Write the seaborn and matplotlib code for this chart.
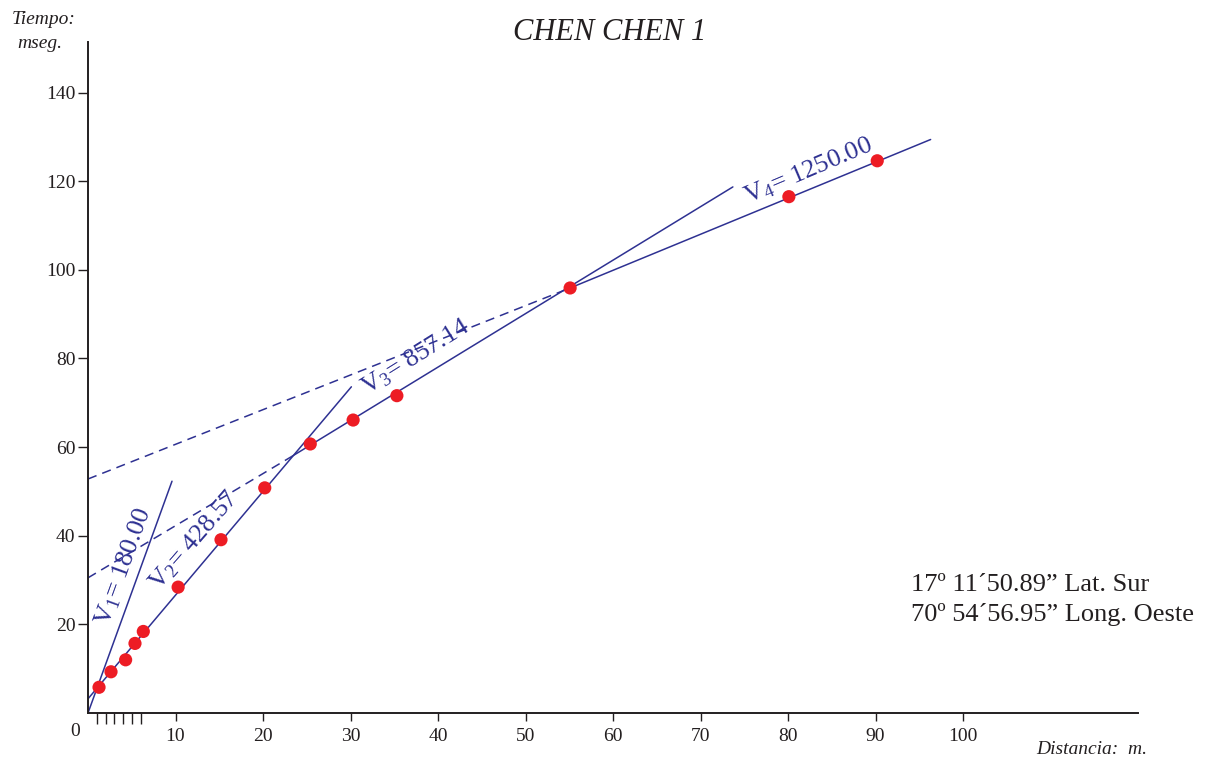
import numpy as np
import pandas as pd
import seaborn as sns
import matplotlib
matplotlib.use('Agg')
import matplotlib.pyplot as plt

# Puntos medidos (distancia en m, tiempo en ms)
distancia = [1.26, 2.63, 4.3, 5.37, 6.32, 10.3, 15.2, 20.2, 25.4, 30.3, 35.3, 55.1, 80.1, 90.2]
tiempo = [5.8, 9.3, 12.0, 15.7, 18.4, 28.4, 39.1, 50.8, 60.7, 66.1, 71.6, 95.9, 116.5, 124.6]

# Rectas de velocidad: extremos (x0, t0) -> (x1, t1)
seg_x0 = [0, 0, 0, 23.3, 0, 55.1]
seg_t0 = [0, 3.2, 30.5, 57.9, 52.8, 95.9]
seg_x1 = [9.6, 30.1, 23.3, 73.7, 55.1, 96.3]
seg_t1 = [52.3, 73.6, 57.9, 118.7, 95.9, 129.4]
seg_dashed = [False, False, True, False, True, False]

# Etiquetas de velocidad
vel_labels = [r"V$_1$= 180.00", r"V$_2$= 428.57", r"V$_3$= 857.14", r"V$_4$= 1250.00"]
vel_x = [4.1, 12.1, 37.4, 82.3]
vel_t = [33.0, 39.0, 80.3, 122.3]
vel_rot = [70, 49, 32, 23]

x_ticks = [10, 20, 30, 40, 50, 60, 70, 80, 90, 100]
x_minor = [1, 2, 3, 4, 5, 6]
y_ticks = [20, 40, 60, 80, 100, 120, 140]

sns.set_theme(style="white")
plt.rcParams['font.family'] = ['Liberation Serif', 'DejaVu Serif']
plt.rcParams['mathtext.fontset'] = 'custom'
plt.rcParams['mathtext.rm'] = 'Liberation Serif'
plt.rcParams['mathtext.it'] = 'Liberation Serif:italic'
plt.rcParams['mathtext.default'] = 'regular'

AZUL = '#2E3192'
ROJO = '#ED1C24'
NEGRO = '#231F20'
W, H = 1208, 765

fig = plt.figure(figsize=(W / 100, H / 100), dpi=100)
ax = fig.add_axes([88 / W, 1 - 713 / H, (1138 - 88) / W, (713 - 42) / H])

for i in range(len(seg_x0)):
    sns.lineplot(x=[seg_x0[i], seg_x1[i]], y=[seg_t0[i], seg_t1[i]], ax=ax,
                 color=AZUL, lw=1.1, sort=False, estimator=None,
                 linestyle=(0, (6, 4)) if seg_dashed[i] else '-', zorder=2)

df = pd.DataFrame({"distancia": distancia, "tiempo": tiempo})
sns.scatterplot(data=df, x="distancia", y="tiempo", ax=ax, color=ROJO,
                s=90, edgecolor='none', zorder=3)

for lab, x, t, r in zip(vel_labels, vel_x, vel_t, vel_rot):
    ax.text(x, t, lab, rotation=r, rotation_mode='anchor', ha='center', va='center',
            color=AZUL, fontsize=19)

ax.set_xlim(0, 120)
ax.set_ylim(0, 151.4)
ax.set_xticks(x_ticks)
ax.set_xticks(x_minor, minor=True)
ax.set_yticks(y_ticks)
ax.tick_params(axis='x', which='major', direction='out', length=6, width=1,
               color=NEGRO, labelsize=14, pad=5, labelcolor=NEGRO, bottom=True)
ax.tick_params(axis='x', which='minor', direction='out', length=8, width=1,
               color=NEGRO, bottom=True)
ax.tick_params(axis='y', which='both', direction='out', length=7, width=1,
               color=NEGRO, labelsize=14, pad=2, labelcolor=NEGRO, left=True)
ax.set_xlabel("")
ax.set_ylabel("")
for s in ['top', 'right']:
    ax.spines[s].set_visible(False)
for s in ['left', 'bottom']:
    ax.spines[s].set_color(NEGRO)
    ax.spines[s].set_linewidth(1.4)

def px(x, y):
    return x / W, 1 - y / H

fig.text(*px(75, 731), "0", ha='center', va='center', fontsize=14, color=NEGRO)
fig.text(*px(610, 33), "CHEN CHEN 1", ha='center', va='center', fontsize=22,
         style='italic', color=NEGRO)
fig.text(*px(12, 19), "Tiempo:", ha='left', va='center', fontsize=14,
         style='italic', color=NEGRO)
fig.text(*px(17, 43), "mseg.", ha='left', va='center', fontsize=14,
         style='italic', color=NEGRO)
fig.text(*px(1036, 749), "Distancia:  m.", ha='left', va='center', fontsize=14,
         style='italic', color=NEGRO)
fig.text(*px(911, 585), "17\u00ba 11\u00b450.89\u201d Lat. Sur", ha='left', va='center',
         fontsize=19, color=NEGRO)
fig.text(*px(911, 614), "70\u00ba 54\u00b456.95\u201d Long. Oeste", ha='left', va='center',
         fontsize=19, color=NEGRO)

fig.savefig("out.png", dpi=100, facecolor='white')
